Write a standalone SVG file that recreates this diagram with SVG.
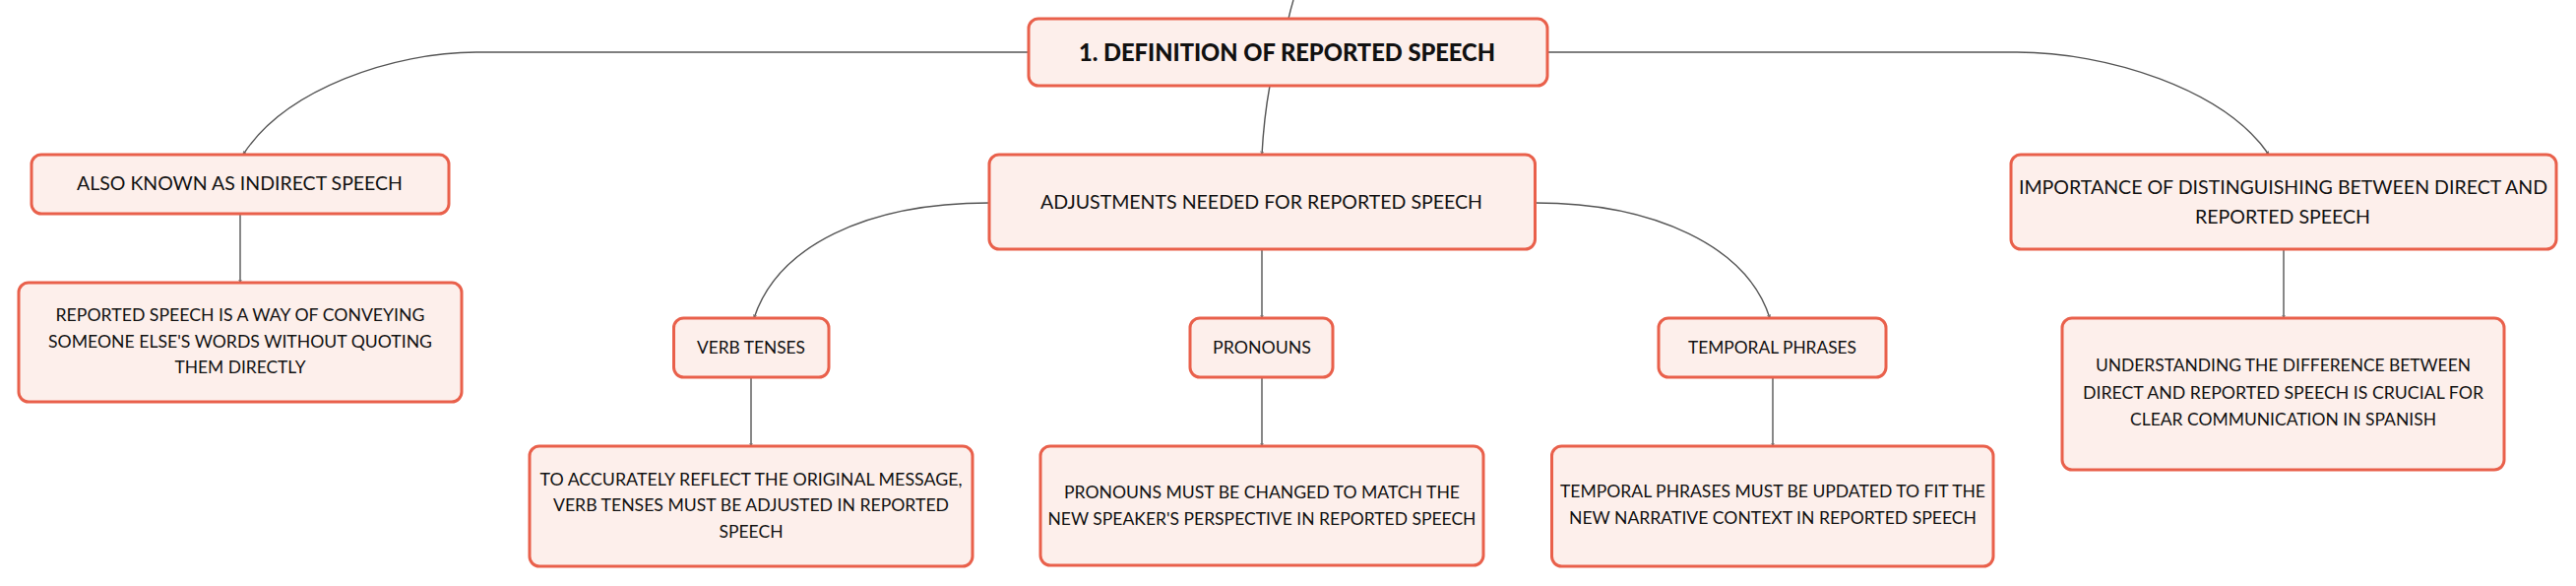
<svg xmlns="http://www.w3.org/2000/svg" width="2617" height="595" viewBox="0 0 2617 595">
<style>
.box{fill:#fdefeb;stroke:#e9604b;stroke-width:3}
.t{font-family:Lato,"Noto Sans","Liberation Sans",sans-serif;fill:#111;text-anchor:middle}
.l1{font-size:19px}
.l2{font-size:18px}
.d{font-size:17px}
.root{font-size:25px;font-weight:900}
.c{fill:none;stroke:#555;stroke-width:1.4}
</style>
<defs>
<marker id="ah" markerWidth="5" markerHeight="5" refX="3.5" refY="2" orient="auto" markerUnits="userSpaceOnUse">
<path d="M0,0.5 L3.5,2 L0,3.5" fill="none" stroke="#666" stroke-width="0.8"/>
</marker>
</defs>
<rect width="2617" height="595" fill="#ffffff"/>
<g id="connectors">
<path class="c" d="M1314 0 Q1311 10 1309 19"/>
<path class="c" d="M1045 53 L484 53 C400 53 290 90 247 157" marker-end="url(#ah)"/>
<path class="c" d="M1572 53 L2049 53 C2140 53 2259 90 2305 157" marker-end="url(#ah)"/>
<path class="c" d="M1290 87 Q1284 120 1282 157" marker-end="url(#ah)"/>
<path class="c" d="M244 217 L244 287" marker-end="url(#ah)"/>
<path class="c" d="M1005 206 C880 206 790 250 766 323" marker-end="url(#ah)"/>
<path class="c" d="M1282 253 L1282 323" marker-end="url(#ah)"/>
<path class="c" d="M1560 206 C1680 206 1775 250 1798 323" marker-end="url(#ah)"/>
<path class="c" d="M2320 253 L2320 323" marker-end="url(#ah)"/>
<path class="c" d="M763 383 L763 453" marker-end="url(#ah)"/>
<path class="c" d="M1282 383 L1282 453" marker-end="url(#ah)"/>
<path class="c" d="M1801 383 L1801 453" marker-end="url(#ah)"/>
</g>
<g id="root">
<rect class="box" x="1045" y="19" width="527" height="68" rx="10"/>
<text class="t root" x="1307.5" y="62" textLength="423" lengthAdjust="spacingAndGlyphs">1. DEFINITION OF REPORTED SPEECH</text>
</g>
<g id="also-known">
<rect class="box" x="32" y="157" width="424" height="60" rx="10"/>
<text class="t l1" x="243.5" y="193" textLength="331" lengthAdjust="spacingAndGlyphs">ALSO KNOWN AS INDIRECT SPEECH</text>
</g>
<g id="also-known-desc">
<rect class="box" x="19" y="287" width="450" height="121" rx="10"/>
<text class="t d" x="244" y="326" textLength="375" lengthAdjust="spacingAndGlyphs">REPORTED SPEECH IS A WAY OF CONVEYING</text>
<text class="t d" x="244" y="353" textLength="390" lengthAdjust="spacingAndGlyphs">SOMEONE ELSE'S WORDS WITHOUT QUOTING</text>
<text class="t d" x="244" y="379" textLength="133" lengthAdjust="spacingAndGlyphs">THEM DIRECTLY</text>
</g>
<g id="adjustments">
<rect class="box" x="1005" y="157" width="554.5" height="96" rx="10"/>
<text class="t l1" x="1281.5" y="212" textLength="449" lengthAdjust="spacingAndGlyphs">ADJUSTMENTS NEEDED FOR REPORTED SPEECH</text>
</g>
<g id="importance">
<rect class="box" x="2043" y="157" width="554" height="96" rx="10"/>
<text class="t l1" x="2319.5" y="197" textLength="537" lengthAdjust="spacingAndGlyphs">IMPORTANCE OF DISTINGUISHING BETWEEN DIRECT AND</text>
<text class="t l1" x="2319" y="227" textLength="178" lengthAdjust="spacingAndGlyphs">REPORTED SPEECH</text>
</g>
<g id="importance-desc">
<rect class="box" x="2095" y="323" width="449" height="154" rx="10"/>
<text class="t d" x="2319.5" y="377" textLength="381" lengthAdjust="spacingAndGlyphs">UNDERSTANDING THE DIFFERENCE BETWEEN</text>
<text class="t d" x="2319.5" y="405" textLength="407" lengthAdjust="spacingAndGlyphs">DIRECT AND REPORTED SPEECH IS CRUCIAL FOR</text>
<text class="t d" x="2319.5" y="432" textLength="311" lengthAdjust="spacingAndGlyphs">CLEAR COMMUNICATION IN SPANISH</text>
</g>
<g id="verb-tenses">
<rect class="box" x="684.5" y="323" width="157.5" height="60" rx="10"/>
<text class="t l2" x="763" y="359" textLength="110" lengthAdjust="spacingAndGlyphs">VERB TENSES</text>
</g>
<g id="verb-tenses-desc">
<rect class="box" x="538" y="453" width="450" height="122" rx="10"/>
<text class="t d" x="763" y="493" textLength="429" lengthAdjust="spacingAndGlyphs">TO ACCURATELY REFLECT THE ORIGINAL MESSAGE,</text>
<text class="t d" x="763" y="519" textLength="402" lengthAdjust="spacingAndGlyphs">VERB TENSES MUST BE ADJUSTED IN REPORTED</text>
<text class="t d" x="763" y="546" textLength="65" lengthAdjust="spacingAndGlyphs">SPEECH</text>
</g>
<g id="pronouns">
<rect class="box" x="1209" y="323" width="145" height="60" rx="10"/>
<text class="t l2" x="1282" y="359" textLength="100" lengthAdjust="spacingAndGlyphs">PRONOUNS</text>
</g>
<g id="pronouns-desc">
<rect class="box" x="1057" y="453" width="450" height="121" rx="10"/>
<text class="t d" x="1282" y="506" textLength="402" lengthAdjust="spacingAndGlyphs">PRONOUNS MUST BE CHANGED TO MATCH THE</text>
<text class="t d" x="1282" y="533" textLength="435" lengthAdjust="spacingAndGlyphs">NEW SPEAKER'S PERSPECTIVE IN REPORTED SPEECH</text>
</g>
<g id="temporal-phrases">
<rect class="box" x="1685" y="323" width="231" height="60" rx="10"/>
<text class="t l2" x="1800.5" y="359" textLength="171" lengthAdjust="spacingAndGlyphs">TEMPORAL PHRASES</text>
</g>
<g id="temporal-phrases-desc">
<rect class="box" x="1576.5" y="453" width="448.5" height="122" rx="10"/>
<text class="t d" x="1801" y="505" textLength="432" lengthAdjust="spacingAndGlyphs">TEMPORAL PHRASES MUST BE UPDATED TO FIT THE</text>
<text class="t d" x="1801" y="532" textLength="414" lengthAdjust="spacingAndGlyphs">NEW NARRATIVE CONTEXT IN REPORTED SPEECH</text>
</g>
</svg>
